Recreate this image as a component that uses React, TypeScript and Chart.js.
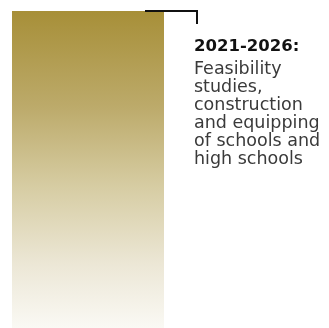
import React, { useEffect, useRef } from "react";
import { Chart, registerables } from "chart.js";

Chart.register(...registerables);

const categories = ["2021-2026"];
const values = [1];
const titleText = "2021-2026:";
const bodyLines = ["Feasibility", "studies,", "construction", "and equipping", "of schools and", "high schools"];

const annotationPlugin = {
  id: "phaseNote",
  afterDraw(chart: any) {
    const ctx = chart.ctx;
    const bar = chart.getDatasetMeta(0).data[0];
    if (!bar) return;
    const right = bar.x + bar.width / 2;
    const top = bar.y;
    ctx.save();
    ctx.strokeStyle = "#111111";
    ctx.lineWidth = 2;
    ctx.beginPath();
    ctx.moveTo(right - 19, top);
    ctx.lineTo(right + 33, top);
    ctx.lineTo(right + 33, top + 13);
    ctx.stroke();
    const tx = right + 30;
    ctx.fillStyle = "#111111";
    ctx.textBaseline = "alphabetic";
    ctx.font = "bold 16.5px 'DejaVu Sans'";
    ctx.fillText(titleText, tx, top + 40);
    ctx.fillStyle = "#3a3a3a";
    ctx.font = "17.5px 'DejaVu Sans'";
    bodyLines.forEach((l, i) => ctx.fillText(l, tx, top + 63 + i * 18));
    ctx.restore();
  },
};

export default function App() {
  const ref = useRef<HTMLCanvasElement>(null);
  useEffect(() => {
    document.body.style.margin = "0";
    const chart = new Chart(ref.current!, {
      type: "bar",
      data: {
        labels: categories,
        datasets: [
          {
            data: values,
            barPercentage: 1,
            categoryPercentage: 1,
            backgroundColor: (c: any) => {
              const area = c.chart.chartArea;
              if (!area) return "#A9923A";
              const g = c.chart.ctx.createLinearGradient(0, area.top, 0, area.bottom);
              g.addColorStop(0, "#A78F38");
              g.addColorStop(0.3, "#BCAA6A");
              g.addColorStop(0.55, "#D6CCA2");
              g.addColorStop(0.8, "#ECE7D6");
              g.addColorStop(1, "#FAF9F4");
              return g;
            },
          },
        ],
      },
      options: {
        animation: false,
        responsive: false,
        layout: { padding: { left: 12, top: 11, right: 165, bottom: 0 } },
        plugins: { legend: { display: false }, tooltip: { enabled: false } },
        scales: {
          x: { display: false },
          y: { display: false, min: 0, max: 1 },
        },
      },
      plugins: [annotationPlugin],
    });
    return () => chart.destroy();
  }, []);
  return <canvas ref={ref} width={329} height={328} style={{ display: "block" }} />;
}
